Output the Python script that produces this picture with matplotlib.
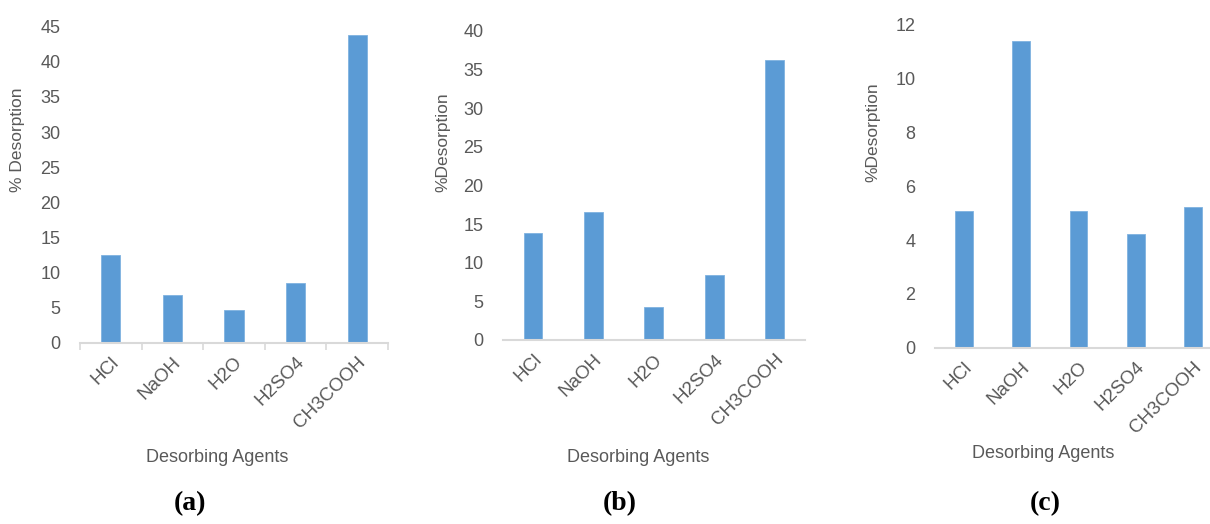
import matplotlib
matplotlib.use("Agg")
import matplotlib.pyplot as plt
import numpy as np

agents = ["HCl", "NaOH", "H2O", "H2SO4", "CH3COOH"]
desorption_a = [12.5, 6.85, 4.65, 8.55, 43.8]
desorption_b = [13.8, 16.55, 4.25, 8.35, 36.2]
desorption_c = [5.09, 11.4, 5.07, 4.23, 5.25]
ylims = [45, 40, 12]
ysteps = [5, 5, 2]
ylabels = ["% Desorption", "%Desorption", "%Desorption"]
panel_tags = ["(a)", "(b)", "(c)"]

W, H = 1210, 524
bar_color = "#5B9BD5"
text_color = "#595959"
axis_color = "#D9D9D9"
plt.rcParams["font.family"] = ["Liberation Sans", "DejaVu Sans"]

fig = plt.figure(figsize=(W / 100, H / 100), dpi=100)

# axes boxes in pixels: left, right, bottom(y0), top(ymax)
boxes = [(80, 388, 342.7, 26.7), (502.7, 805, 340, 30.7), (935, 1222, 347.7, 25)]
ylabel_pos = [(18, 140), (443, 142), (873, 132)]
xlabel_pos = [(217, 458), (638, 458), (1043, 454)]
tag_pos = [(190, 504), (620, 504), (1045, 504)]
show_ticks = [True, False, False]

for i, vals in enumerate([desorption_a, desorption_b, desorption_c]):
    l, r, b, t = boxes[i]
    ax = fig.add_axes([l / W, 1 - b / H, (r - l) / W, (b - t) / H])
    x = np.arange(len(agents))
    ax.bar(x, vals, width=0.31, color=bar_color, edgecolor="#7FB2E0", linewidth=0.6)
    ax.set_xlim(-0.5, len(agents) - 0.5)
    ax.set_ylim(0, ylims[i])
    ax.set_yticks(np.arange(0, ylims[i] + 0.1, ysteps[i]))
    ax.set_xticks(x)
    ax.set_xticklabels(agents, rotation=45, ha="right", rotation_mode="anchor")
    for s in ["top", "right", "left"]:
        ax.spines[s].set_visible(False)
    ax.spines["bottom"].set_color(axis_color)
    ax.spines["bottom"].set_linewidth(1.5)
    ax.tick_params(axis="y", length=0, pad=14, labelsize=13, labelcolor=text_color)
    ax.tick_params(axis="x", which="major", length=0, pad=8, labelsize=13.5,
                   labelcolor=text_color)
    if show_ticks[i]:
        ax.set_xticks(np.arange(-0.5, len(agents), 1.0), minor=True)
        ax.tick_params(axis="x", which="minor", length=5, width=1.2, color=axis_color)
    ax.set_facecolor("none")

    yx, yy = ylabel_pos[i]
    fig.text(yx / W, 1 - yy / H, ylabels[i], rotation=90, ha="center", va="center",
             fontsize=12.5, color=text_color)
    xx, xy = xlabel_pos[i]
    fig.text(xx / W, 1 - xy / H, "Desorbing Agents", ha="center", va="center",
             fontsize=13, color=text_color)
    tx, ty = tag_pos[i]
    fig.text(tx / W, 1 - ty / H, panel_tags[i], ha="center", va="center",
             fontsize=20, fontweight="bold", family="Liberation Serif", color="black")

fig.savefig("out.png", dpi=100)
